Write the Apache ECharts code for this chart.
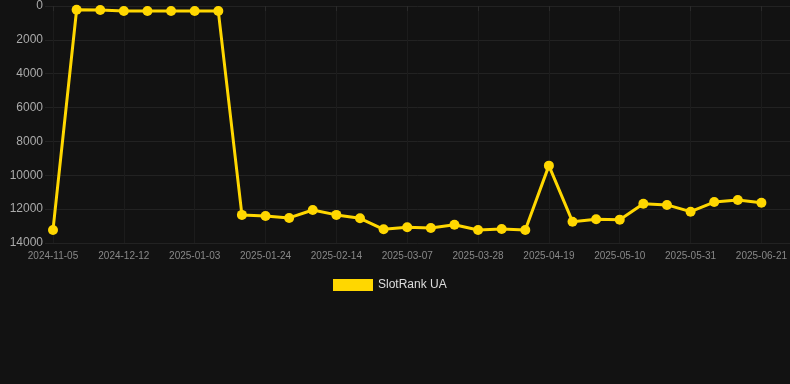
<!DOCTYPE html>
<html>
<head>
<meta charset="utf-8">
<script src="https://cdn.jsdelivr.net/npm/echarts@6/dist/echarts.min.js"></script>
<style>
html,body{margin:0;padding:0;background:#121212;}
#c{width:790px;height:384px;}
</style>
</head>
<body>
<div id="c"></div>
<script>
var dates = ["2024-11-05","2024-11-28","2024-12-05","2024-12-12","2024-12-19","2024-12-27","2025-01-03","2025-01-10","2025-01-17","2025-01-24","2025-01-31","2025-02-07","2025-02-14","2025-02-21","2025-02-28","2025-03-07","2025-03-14","2025-03-21","2025-03-28","2025-04-04","2025-04-12","2025-04-19","2025-04-26","2025-05-03","2025-05-10","2025-05-17","2025-05-24","2025-05-31","2025-06-07","2025-06-14","2025-06-21"];
var seriesName = "SlotRank UA";
var ranks = [13230,220,240,300,300,300,300,300,12340,12400,12520,12050,12340,12540,13190,13070,13110,12920,13230,13170,13230,9430,12740,12600,12620,11680,11750,12150,11580,11460,11620];
var yTicks = {min:0, max:14000, interval:2000};

var font = 'Liberation Sans, Arial, sans-serif';
var chart = echarts.init(document.getElementById('c'));
chart.setOption({
  backgroundColor:'#121212',
  animation:false,
  grid:[
    {left:45, right:0, top:6, bottom:141},
    {left:53, right:28, top:6, bottom:141}
  ],
  legend:{
    data:[seriesName], bottom:88, left:328,
    itemWidth:40, itemHeight:12, icon:'rect',
    textStyle:{color:'#dddddd', fontSize:12, fontFamily:font}
  },
  xAxis:[
    {gridIndex:0, type:'value', show:false, min:0, max:1},
    {gridIndex:1, type:'category', data:dates, boundaryGap:false,
     axisLine:{show:false},
     axisTick:{show:true, interval:2, length:5, lineStyle:{color:'#2a2a2a'}},
     axisLabel:{interval:2, color:'#888888', fontSize:10, fontFamily:font, margin:8},
     splitLine:{show:true, interval:2, lineStyle:{color:'#1c1c1c'}}
    }
  ],
  yAxis:[
    {gridIndex:0, type:'value', inverse:true, min:yTicks.min, max:yTicks.max, interval:yTicks.interval,
     axisLine:{show:false}, axisTick:{show:false},
     axisLabel:{show:false},
     splitLine:{lineStyle:{color:'#222222'}}
    },
    {gridIndex:1, type:'value', inverse:true, min:yTicks.min, max:yTicks.max, interval:yTicks.interval,
     axisLine:{show:false}, axisTick:{show:false},
     axisLabel:{color:'#aaaaaa', fontSize:12, fontFamily:font, margin:10, formatter:function(v){return String(v);}},
     splitLine:{show:false}
    }
  ],
  series:[{
    name:seriesName, type:'line', data:ranks, xAxisIndex:1, yAxisIndex:1,
    symbol:'circle', symbolSize:10,
    lineStyle:{color:'#FFD700', width:3},
    itemStyle:{color:'#FFD700'}
  }]
});
</script>
</body>
</html>
